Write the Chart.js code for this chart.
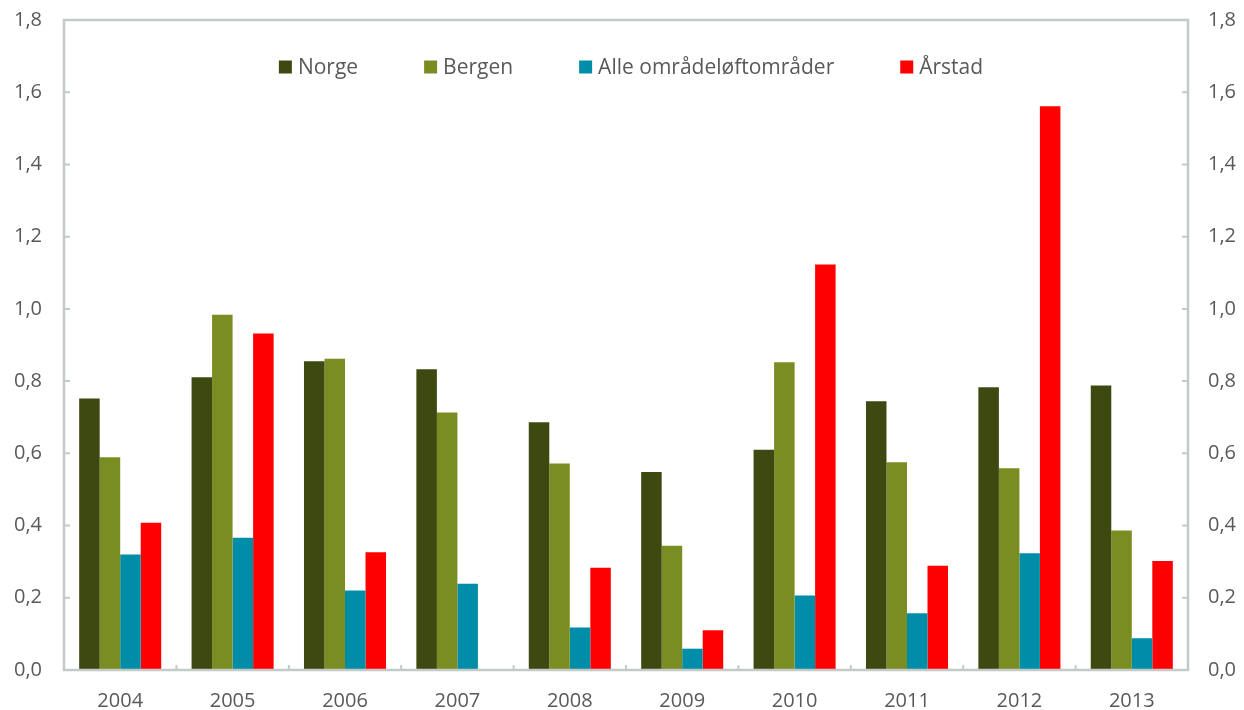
<!DOCTYPE html>
<html>
<head>
<meta charset="utf-8">
<script src="https://cdn.jsdelivr.net/npm/chart.js@4/dist/chart.umd.min.js"></script>
<style>
  html, body { margin: 0; padding: 0; background: #fff; }
  #wrap { width: 1244px; height: 710px; }
</style>
</head>
<body>
<div id="wrap"><canvas id="c" width="1244" height="710"></canvas></div>
<script>
const years = ["2004","2005","2006","2007","2008","2009","2010","2011","2012","2013"]
const norge  = [0.752, 0.811, 0.855, 0.833, 0.686, 0.548, 0.610, 0.744, 0.783, 0.788]
const bergen = [0.589, 0.984, 0.862, 0.713, 0.572, 0.344, 0.852, 0.575, 0.559, 0.386]
const alle   = [0.320, 0.366, 0.220, 0.239, 0.118, 0.059, 0.206, 0.157, 0.323, 0.088]
const arstad = [0.408, 0.932, 0.326, null,  0.283, 0.110, 1.123, 0.289, 1.561, 0.302]
const yTicks = [0, 0.2, 0.4, 0.6, 0.8, 1.0, 1.2, 1.4, 1.6, 1.8]

const FONT = "'Open Sans', sans-serif"
const FSIZE = 20
const TXT = "#595959"
const AXIS = "#c3cac8"

function fmt(v){ return Number(v).toFixed(1).replace(".", ",") }

// box, inward ticks and legend inside plot
const frame = {
  id: "frame",
  afterDatasetsDraw(chart){
    const ctx = chart.ctx
    const a = chart.chartArea
    const y = chart.scales.y
    const x = chart.scales.x
    ctx.save()
    ctx.strokeStyle = AXIS
    ctx.lineWidth = 2.5
    ctx.strokeRect(a.left, a.top, a.right - a.left, a.bottom - a.top)
    ctx.lineWidth = 2
    ctx.beginPath()
    yTicks.forEach(v => {
      const py = y.getPixelForValue(v)
      ctx.moveTo(a.left, py); ctx.lineTo(a.left + 6, py)
      ctx.moveTo(a.right, py); ctx.lineTo(a.right - 6, py)
    })
    for (let i = 1; i < years.length; i++){
      const px = (x.getPixelForValue(i - 1) + x.getPixelForValue(i)) / 2
      ctx.moveTo(px, a.bottom); ctx.lineTo(px, a.bottom - 5)
    }
    ctx.stroke()

    // legend
    ctx.font = "21px " + FONT
    ctx.textBaseline = "middle"
    const box = 13, gapTxt = 6, gapItem = 66
    const items = chart.data.datasets.map(d => ({ label: d.label, color: d.backgroundColor, w: box + gapTxt + ctx.measureText(d.label).width }))
    const total = items.reduce((s, it) => s + it.w, 0) + gapItem * (items.length - 1)
    let lx = (a.left + a.right) / 2 - total / 2 + 5
    const ly = 67
    items.forEach(it => {
      ctx.fillStyle = it.color
      ctx.fillRect(lx, ly - box / 2, box, box)
      ctx.fillStyle = TXT
      ctx.fillText(it.label, lx + box + gapTxt, ly + 1)
      lx += it.w + gapItem
    })
    ctx.restore()
  }
}

function fixY(w){
  return s => { s.width = w; s.paddingTop = 0; s.paddingBottom = 0 }
}

new Chart(document.getElementById("c"), {
  type: "bar",
  data: {
    labels: years,
    datasets: [
      { label: "Norge", data: norge, backgroundColor: "#3d4911" },
      { label: "Bergen", data: bergen, backgroundColor: "#7a8d22" },
      { label: "Alle områdeløftområder", data: alle, backgroundColor: "#008da8" },
      { label: "Årstad", data: arstad, backgroundColor: "#ff0000" }
    ]
  },
  options: {
    responsive: false,
    animation: false,
    layout: { padding: { top: 20, left: 0, right: 0, bottom: 0 } },
    datasets: { bar: { categoryPercentage: 0.73, barPercentage: 1.0 } },
    plugins: { legend: { display: false }, tooltip: { enabled: false } },
    scales: {
      x: {
        grid: { display: false, drawTicks: false },
        border: { display: false },
        ticks: { color: TXT, font: { family: FONT, size: FSIZE }, padding: 19 },
        afterFit: s => { s.height = 40 }
      },
      y: {
        position: "left",
        min: 0, max: 1.8,
        grid: { display: false, drawTicks: false },
        border: { display: false },
        ticks: { stepSize: 0.2, color: TXT, font: { family: FONT, size: FSIZE }, padding: 22, callback: v => fmt(v) },
        afterFit: fixY(64)
      },
      y2: {
        position: "right",
        min: 0, max: 1.8,
        grid: { display: false, drawTicks: false },
        border: { display: false },
        ticks: { stepSize: 0.2, color: TXT, font: { family: FONT, size: FSIZE }, padding: 20, callback: v => fmt(v) },
        afterFit: fixY(56)
      }
    }
  },
  plugins: [frame]
})
</script>
</body>
</html>
